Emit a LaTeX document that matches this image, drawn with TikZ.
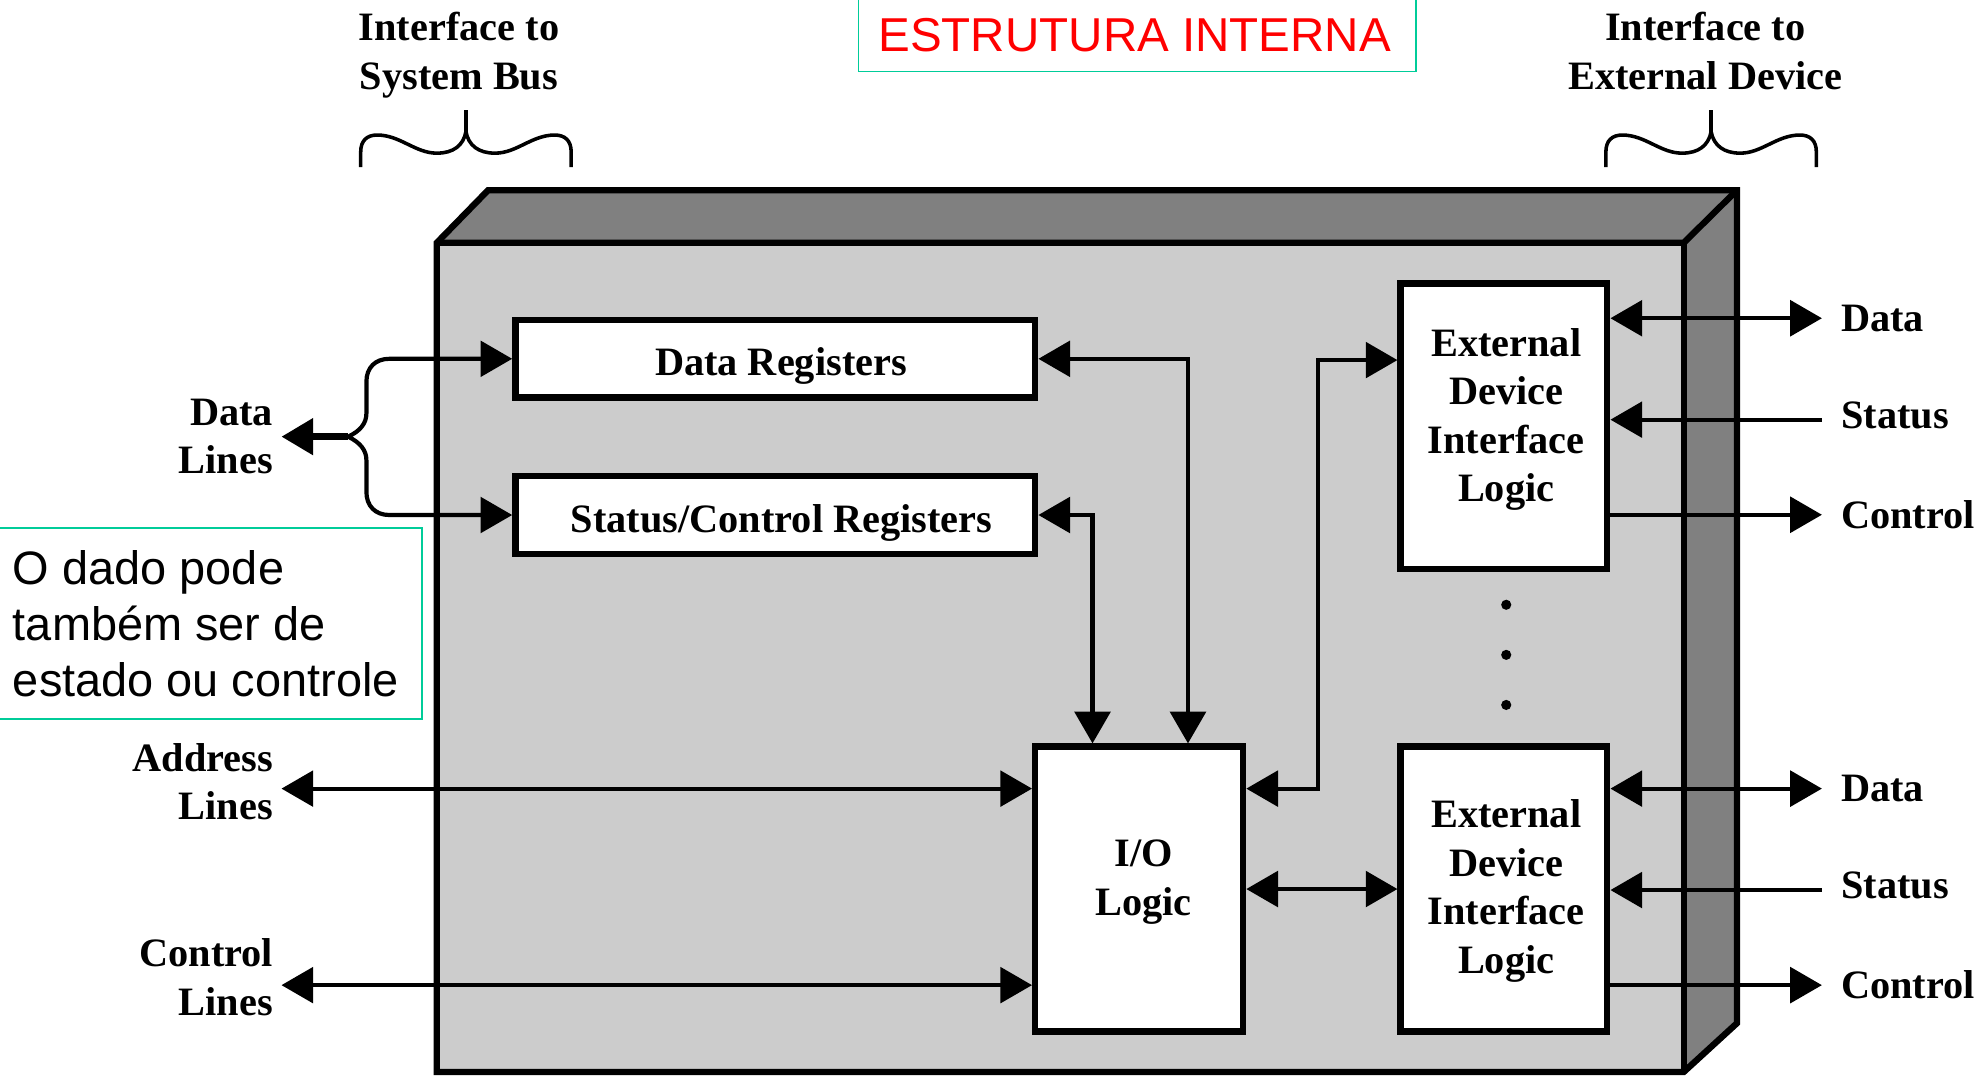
\documentclass[tikz,border=0pt]{standalone}
\usepackage{fontspec}
\setmainfont{Liberation Serif}
\newfontfamily\sansfam{Liberation Sans}
\usetikzlibrary{arrows.meta}
\definecolor{frontgray}{HTML}{CCCCCC}
\definecolor{sidegray}{HTML}{808080}
\definecolor{frameteal}{RGB}{0,204,153}

\tikzset{
  >={Triangle[length=25pt,width=28pt]},
  lbl/.style={font=\fontsize{31.8}{38.3}\selectfont\bfseries, inner sep=0pt},
  sanstxt/.style={font=\sansfam\fontsize{37.5}{44.4}\selectfont, inner sep=0pt},
  blk/.style={draw=black, line width=5pt, fill=white, inner sep=0pt},
  wire/.style={line width=3.3pt},
  casing/.style={line width=5pt},
  tealframe/.style={draw=frameteal, line width=1.3pt, inner sep=0pt},
  pics/upbrace/.style={code={
    \draw[line width=2.8pt, line cap=butt]
      (-83,45) -- (-83,33) .. controls (-83,24) and (-78,19.7) .. (-70,19.7)
      .. controls (-52,19.7) and (-40,34) .. (-23,34)
      .. controls (-10,34) and (-2,28) .. (0,17)
      .. controls (2,28) and (10,34) .. (23,34)
      .. controls (40,34) and (52,19.7) .. (70,19.7)
      .. controls (78,19.7) and (83,24) .. (83,33) -- (83,45);
    \draw[line width=2.8pt] (0,20) -- (0,0);
  }}
}

\begin{document}
\begin{tikzpicture}[x=1pt,y=-1pt]
\useasboundingbox (0,0) rectangle (1568,849);

% module casing: faces filled first, then the outline and inner edges
\fill[sidegray] (344.5,191.5) -- (385,150) -- (1370,150) -- (1370,807) -- (1328,845.5) -- (1328,191.5) -- cycle;
\fill[frontgray] (344.5,191.5) rectangle (1328,845.5);
\draw[casing] (344.5,191.5) -- (385,150) -- (1370,150) -- (1370,807) -- (1328,845.5) -- (344.5,845.5) -- cycle;
\draw[casing] (344.5,191.5) -- (1328,191.5) -- (1370,150);
\draw[casing] (1328,191.5) -- (1328,845.5);

% headings with braces
\node[lbl, align=center, anchor=base] (hdrbus) at (362,70.4) {Interface to\\System Bus};
\node[lbl, align=center, anchor=base] (hdrdev) at (1345,70.4) {Interface to\\External Device};
\pic at (367.5,86.8) {upbrace};
\pic at (1349.6,86.8) {upbrace};

% title
\node[tealframe, minimum width=440pt, minimum height=64pt] (titlebox) at (897,24.5) {};
\node[sanstxt, text=red, anchor=base] (title) at (895,40.8) {ESTRUTURA INTERNA};

% side note
\node[tealframe, minimum width=337pt, minimum height=150.5pt] (notebox) at (164.5,491.75) {};
\node[sanstxt, font=\sansfam\fontsize{37}{44.4}\selectfont, align=left, anchor=base west] (note) at (10,549.5)
  {O dado pode\\também ser de\\estado ou controle};

% internal blocks
\node[blk, minimum width=410pt, minimum height=61.2pt] (dr) at (611.5,283) {};
\node[blk, minimum width=410pt, minimum height=61.7pt] (sc) at (611.5,406.2) {};
\node[blk, minimum width=164pt, minimum height=224.7pt] (io) at (898.5,701.2) {};
\node[blk, minimum width=163pt, minimum height=225.2pt] (e1) at (1186.2,336.2) {};
\node[blk, minimum width=163pt, minimum height=224.7pt] (e2) at (1186.2,701.2) {};

\node[lbl, anchor=base] (drtxt) at (616,295.8) {Data Registers};
\node[lbl, anchor=base] (sctxt) at (616.5,419.8) {Status/Control Registers};
\node[lbl, align=center, anchor=base] (iotxt) at (902,721.7) {I/O\\Logic};
\node[lbl, align=center, anchor=base] (e1txt) at (1188,395.7) {External\\Device\\Interface\\Logic};
\node[lbl, align=center, anchor=base] (e2txt) at (1188,767.7) {External\\Device\\Interface\\Logic};

% ellipsis between the device interfaces
\fill (1188,477) circle[radius=4pt];
\fill (1188,516.5) circle[radius=4pt];
\fill (1188,556) circle[radius=4pt];

% system bus side labels
\node[lbl, align=right, anchor=base east] (dllbl) at (215.5,373.8) {Data\\Lines};
\node[lbl, align=right, anchor=base east] (allbl) at (215.5,646.7) {Address\\Lines};
\node[lbl, align=right, anchor=base east] (cllbl) at (215.5,800.6) {Control\\Lines};

% data lines fork
\coordinate (dltip) at (222,344.4);
\coordinate (fork) at (274.6,344.4);
\draw[line width=5.3pt, ->] (fork) -- (dltip);
\draw[wire, ->] (fork) .. controls (284,340) and (289,334) .. (289,326) -- (289,301)
  .. controls (289,290) and (296,283) .. (307,283) -- (dr.west);
\draw[wire, ->] (fork) .. controls (284,349) and (289,355) .. (289,363) -- (289,388)
  .. controls (289,399) and (296,406.2) .. (307,406.2) -- (sc.west);

% address and control lines
\coordinate (altip) at (222,622);
\coordinate (cltip) at (222,777);
\draw[wire, <->] (altip) -- (io.west |- altip);
\draw[wire, <->] (cltip) -- (io.west |- cltip);

% registers to I/O logic
\coordinate (drx) at (937,0);
\coordinate (scx) at (861.7,0);
\draw[wire, <->] (dr.east) -| (drx |- io.north);
\draw[wire, <->] (sc.east) -| (scx |- io.north);

% I/O logic to device interfaces
\coordinate (lkx) at (1039.7,0);
\coordinate (ya) at (0,622);
\coordinate (yb) at (0,284);
\draw[wire, <->] (io.east |- ya) -| (lkx |- yb) -- (e1.west |- yb);
\draw[wire, <->] (io.east) -- (e2.west);

% external device signals
\coordinate (rd1) at (1437,251);
\coordinate (rs1) at (1437,331);
\coordinate (rc1) at (1437,406);
\draw[wire, <->] (e1.east |- rd1) -- (rd1);
\draw[wire, ->] (rs1) -- (e1.east |- rs1);
\draw[wire, ->] (e1.east |- rc1) -- (rc1);
\coordinate (rd2) at (1437,622);
\coordinate (rs2) at (1437,702);
\coordinate (rc2) at (1437,777);
\draw[wire, <->] (e2.east |- rd2) -- (rd2);
\draw[wire, ->] (rs2) -- (e2.east |- rs2);
\draw[wire, ->] (e2.east |- rc2) -- (rc2);

\node[lbl, anchor=base west] (d1lbl) at (1452,261.6) {Data};
\node[lbl, anchor=base west] (s1lbl) at (1452,337.8) {Status};
\node[lbl, anchor=base west] (c1lbl) at (1452,416.7) {Control};
\node[lbl, anchor=base west] (d2lbl) at (1452,632) {Data};
\node[lbl, anchor=base west] (s2lbl) at (1452,709) {Status};
\node[lbl, anchor=base west] (c2lbl) at (1452,787.5) {Control};
\end{tikzpicture}
\end{document}
